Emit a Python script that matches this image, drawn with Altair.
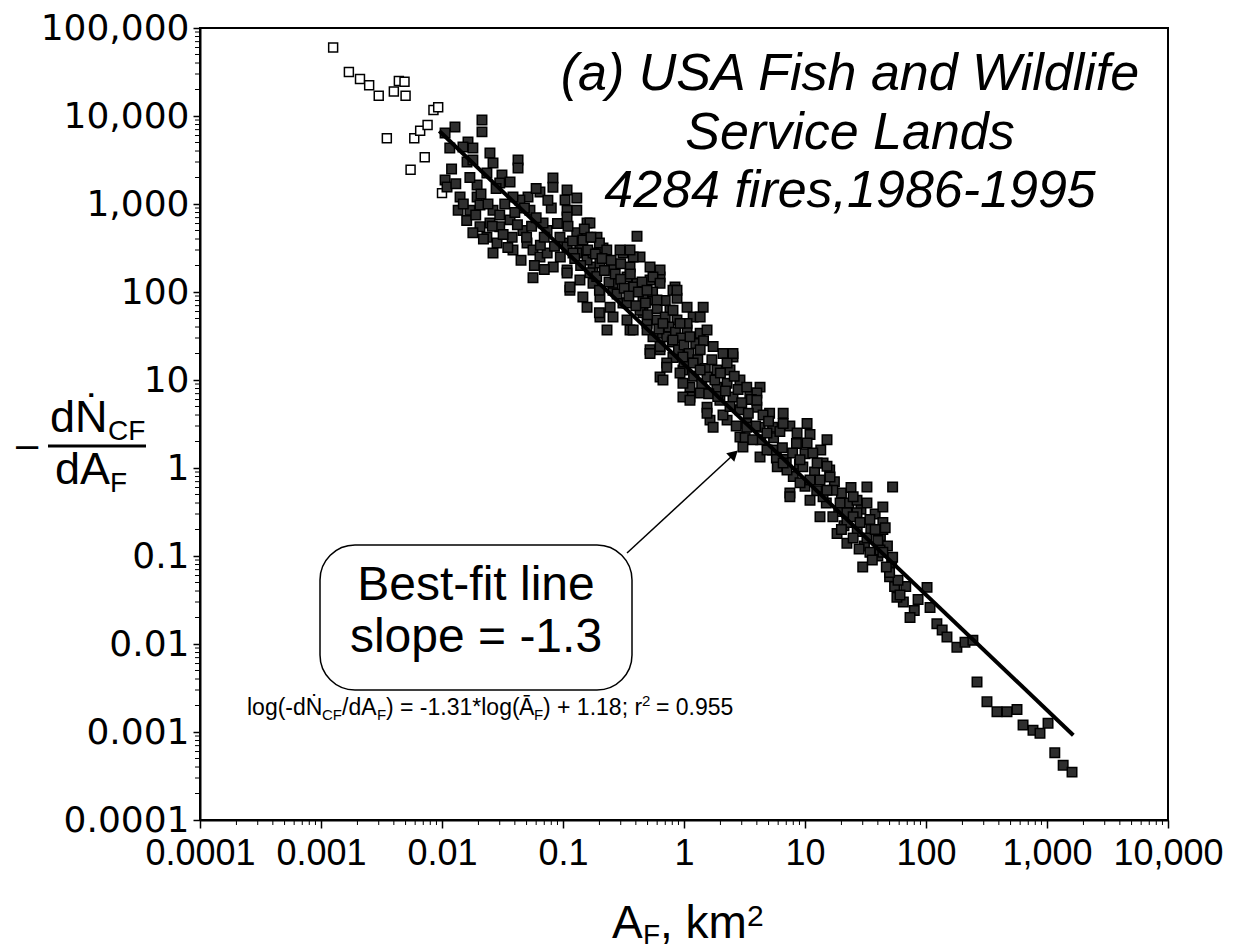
import altair as alt
import pandas as pd

# ---------------- data ----------------
open_x = [0.00126, 0.0017, 0.0021, 0.0025, 0.0030, 0.0040, 0.0044, 0.0049, 0.0050,
          0.0035, 0.0055, 0.0072, 0.0059, 0.0066, 0.0076, 0.0085, 0.0093, 0.0100]
open_y = [60000, 31600, 26300, 22400, 17000, 19000, 25000, 24500, 17000,
          5600, 2450, 3400, 5600, 6800, 7900, 11700, 12600, 1330]

fill_x = [
    # 0.01 - 0.2
    0.0128, 0.0106, 0.0214, 0.0214, 0.0164, 0.0116, 0.018, 0.0161, 0.0249, 0.0264,
    0.0425, 0.0425, 0.0313, 0.0365, 0.0106, 0.011, 0.0195, 0.0141, 0.0195, 0.0206,
    0.0136, 0.017, 0.0826, 0.0826, 0.0645, 0.0514, 0.108, 0.13, 0.108, 0.13,
    0.044, 0.0264, 0.0249, 0.0206, 0.018, 0.0235, 0.030, 0.0285, 0.0365, 0.038,
    0.0467, 0.0504, 0.0386, 0.0565, 0.0645, 0.0264, 0.0738, 0.100, 0.13, 0.138,
    0.158, 0.158, 0.0565, 0.083, 0.074, 0.108, 0.146, 0.177,
    0.0149, 0.018, 0.0235, 0.030, 0.0386, 0.0533, 0.0684, 0.0944, 0.13,
    0.012, 0.013, 0.015, 0.016, 0.017, 0.019, 0.021, 0.022, 0.024, 0.026,
    0.028, 0.03, 0.032, 0.033, 0.035, 0.04, 0.042, 0.045, 0.048, 0.05,
    0.055, 0.058, 0.065, 0.07,
    # 0.05 - 1.5
    0.104, 0.108, 0.167, 0.191, 0.214, 0.313, 0.358, 0.259, 0.202, 0.158,
    0.121, 0.108, 0.138, 0.177, 0.114, 0.146, 0.202, 0.259, 0.245, 0.202,
    0.231, 0.313, 0.338, 0.409, 0.458, 0.524, 0.634, 0.554, 0.458, 0.598,
    0.766, 0.843, 0.875, 1.06, 1.19, 1.44, 0.433, 0.634, 0.524, 0.358,
    1.06, 1.36, 0.634, 0.409,
    0.2, 0.23, 0.296, 0.38, 0.358, 0.177, 0.167, 0.108, 0.114, 0.2,
    0.259, 0.338, 0.38, 0.554, 0.634, 0.811, 0.875, 0.158, 0.2, 0.259,
    0.338, 0.433, 0.38, 0.495, 0.554, 0.72, 0.634, 0.81, 0.98, 1.12, 1.06,
    0.06, 0.07, 0.08, 0.09, 0.095, 0.075, 0.06, 0.085, 0.11, 0.12,
    0.125, 0.14, 0.15, 0.16, 0.17, 0.185, 0.19, 0.21, 0.22, 0.24,
    0.25, 0.27, 0.28, 0.3, 0.3, 0.32, 0.35, 0.36, 0.4, 0.42,
    0.45, 0.48, 0.5, 0.55, 0.6, 0.62, 0.7, 0.7, 0.75, 0.8,
    0.85, 0.9, 0.95, 1.0, 1.0, 1.1, 1.2, 1.25, 1.3, 1.4, 1.45, 1.5,
    # 0.5 - 7
    0.875, 0.495, 0.598, 0.811, 1.36, 0.927, 0.67, 0.495, 0.524, 0.634,
    0.811, 1.12, 1.55, 1.74, 1.36, 0.98, 0.72, 0.634, 0.927, 1.19,
    2.1, 2.54, 2.4, 1.87, 1.55, 1.12, 0.98, 1.36, 1.87, 2.27,
    2.9, 1.98, 1.55, 1.64, 2.54, 3.5, 4.25, 4.0, 2.9, 2.27,
    3.3, 5.1, 6.6, 5.4, 4.25,
    0.524, 0.72, 0.67, 0.98, 1.12, 1.55, 1.74, 4.0, 2.9, 1.36, 2.27, 2.54,
    1.6, 1.7, 1.8, 1.9, 2.0, 2.1, 2.2, 2.4, 2.6, 2.7,
    2.8, 3.0, 3.2, 3.4, 3.6, 3.9, 4.3, 4.5, 5.0, 5.5,
    5.8, 6.2, 6.5, 7.0, 7.5, 8.0, 8.5, 9.0, 10, 10,
    11, 12, 12.5, 13.5, 15, 16, 17.5, 19, 20, 21,
    23, 24, 27, 29, 31, 35, 38, 40, 42, 48, 52, 55, 65, 68, 80,
    # 3 - 55
    3.3, 4.0, 6.6, 10.4, 15.2, 8.6, 10.4, 7.9, 11.6, 14.1,
    5.4, 4.85, 3.7, 3.3, 3.07, 4.25, 5.9, 7.1, 9.6, 7.5,
    9.1, 11, 13.3, 16.1, 11, 14.1, 17, 19.5, 13.3, 17,
    22.2, 26.9, 32.5, 32.5, 26.9, 22.2, 44, 44, 34.4,
    6.6, 9.1, 12.6, 15.2, 7.5, 15.2, 25, 25, 28.5, 4.85, 53,
    # 18 - 1700
    18.4, 22.2, 32.5, 30, 41.7, 44, 53, 50, 57.5, 46,
    34.4, 58.7, 61, 73.8, 86, 102, 108, 123, 136, 149,
    180, 210, 244, 264, 319, 386, 467, 565, 634, 766,
    875, 1020, 1160, 1360, 1610, 44, 50, 20, 25, 28, 36, 40, 47, 38,
]
fill_y = [
    7500, 6400, 9000, 6600, 5070, 4330, 4330, 3000, 3800, 2920,
    3160, 2570, 2140, 1780, 1870, 1560, 1640, 1200, 1200, 975,
    850, 850, 1970, 1550, 1370, 1200, 1440, 1170, 850, 850,
    1110, 850, 610, 550, 470, 420, 550, 360, 660, 420,
    500, 360, 300, 300, 250, 277, 500, 360, 470, 300,
    610, 420, 145, 192, 277, 325, 390, 192,
    4450, 3160, 2250, 1730, 1200, 850, 610, 420, 277,
    2500, 1700, 1000, 650, 2000, 750, 1300, 400, 1000, 560,
    1500, 750, 450, 1000, 320, 800, 580, 230, 900, 420,
    560, 200, 340, 180,
    1110, 710, 610, 420, 316, 277, 192, 192, 214, 231,
    277, 178, 137, 126, 105, 88, 88, 105, 67, 52,
    37, 75, 48, 126, 88, 137, 148, 81, 58, 48,
    62, 114, 48, 67, 52, 67, 250, 178, 192, 37,
    37, 34, 34, 430,
    360, 300, 300, 250, 300, 277, 165, 164, 114, 105,
    126, 148, 114, 148, 126, 105, 85, 67, 58, 52,
    75, 62, 37, 44, 31, 31, 22, 18, 13, 6.4, 44,
    700, 420, 900, 600, 250, 1100, 1500, 330, 560, 380,
    240, 200, 520, 300, 420, 270, 150, 240, 175, 130,
    230, 160, 95, 140, 210, 110, 90, 160, 70, 100,
    130, 75, 55, 100, 65, 38, 52, 80, 40, 27,
    35, 22, 30, 16, 25, 20, 11, 26, 17, 9, 28, 13.5,
    105, 105, 81, 62, 52, 44, 44, 37, 22, 24,
    28.5, 31, 37, 24, 22, 18.2, 15.6, 10.8, 12, 15.6,
    20, 18.2, 13, 13, 10.8, 8.3, 6.4, 7.1, 8.3, 9.2,
    10, 5.9, 4.9, 3.5, 6.4, 7.1, 8.3, 4.9, 4.6, 3.5,
    3.2, 4.2, 4.2, 2.9, 2.9,
    20, 14, 10, 9.2, 5.9, 4.2, 2.9, 7.1, 2.25, 13, 15.6, 20,
    7, 17, 10, 6.5, 12, 4, 7.5, 5, 11, 3,
    7.8, 5.5, 2.2, 4.2, 6, 3, 2.1, 4, 3.4, 2.2,
    1.3, 2.6, 1.7, 1.25, 3.0, 0.8, 1.9, 1.1, 0.62, 1.45,
    2.4, 0.9, 0.55, 1.6, 0.4, 0.95, 0.7, 0.32, 0.52, 0.22,
    0.4, 0.6, 0.19, 0.34, 0.13, 0.2, 0.3, 0.1, 0.17, 0.13, 0.085, 0.045, 0.03, 0.045, 0.024,
    8.3, 5.9, 3.2, 3.2, 2.1, 2.5, 1.92, 1.48, 1.48, 1.14,
    1.6, 2.5, 2.1, 2.9, 1.73, 1.33, 1.03, 0.95, 1.03, 0.52,
    0.68, 0.73, 0.73, 0.79, 0.43, 0.47, 0.56, 0.40, 0.28, 0.28,
    0.31, 0.43, 0.61, 0.40, 0.31, 0.24, 0.36, 0.24, 0.26,
    1.14, 1.24, 1.14, 1.05, 0.47, 0.56, 0.28, 0.47, 0.24, 1.6, 0.61,
    0.18, 0.14, 0.16, 0.075, 0.117, 0.20, 0.097, 0.058, 0.034, 0.21,
    0.11, 0.053, 0.036, 0.020, 0.032, 0.044, 0.026, 0.017, 0.0144, 0.012,
    0.0092, 0.0105, 0.011, 0.0037, 0.0022, 0.0017, 0.0017, 0.0018, 0.0012, 0.00105,
    0.00097, 0.00126, 0.00058, 0.00042, 0.00035, 0.11, 0.065, 0.2, 0.16, 0.12, 0.09, 0.15, 0.075, 0.2,
]

fit_x = [0.0095, 1650]
fit_y = [6750, 0.00092]

x_ticks = [0.0001, 0.001, 0.01, 0.1, 1, 10, 100, 1000, 10000]
y_ticks = [0.0001, 0.001, 0.01, 0.1, 1, 10, 100, 1000, 10000, 100000]
x_minor = [m * 10.0 ** k for k in range(-4, 4) for m in range(2, 10)]
y_minor = [m * 10.0 ** k for k in range(-4, 5) for m in range(2, 10)]

title_lines = ["(a) USA Fish and Wildlife", "Service Lands", "4284 fires,1986-1995"]

# ---------------- chart ----------------
W, H = 968, 792
SANS = "Liberation Sans, Arial, sans-serif"

xs = alt.Scale(type="log", domain=[1e-4, 1e4], nice=False)
ys = alt.Scale(type="log", domain=[1e-4, 1e5], nice=False)
xaxis = alt.Axis(values=x_ticks, format=",", title=None, grid=False, tickSize=8, tickWidth=1.5,
                 tickColor="black", domainColor="black", domainWidth=2, labelFont=SANS,
                 labelFontSize=36, labelColor="black", labelPadding=8, labelFlush=False,
                 labelOverlap=False)
yaxis = alt.Axis(values=y_ticks, format=",", title=None, grid=False, tickSize=7, tickWidth=1.5,
                 tickColor="black", domainColor="black", domainWidth=2, labelFont="DejaVu Sans",
                 labelFontSize=36, labelColor="black", labelPadding=4, labelFlush=False,
                 labelOverlap=False)
X = alt.X("x:Q", scale=xs, axis=xaxis)
Y = alt.Y("y:Q", scale=ys, axis=yaxis)

one = alt.Data(values=[{"a": 1}])


def txt(s, x, y, size, font=SANS, style="normal", align="left", baseline="alphabetic"):
    return alt.Chart(one).mark_text(text=s, font=font, fontSize=size, fontStyle=style,
                                     align=align, baseline=baseline, color="black").encode(
        x=alt.value(x), y=alt.value(y))


minor_x = alt.Chart(pd.DataFrame({"x": x_minor})).mark_rule(color="black", strokeWidth=1).encode(
    x=X, y=alt.value(H), y2=alt.value(H + 5))
minor_y = alt.Chart(pd.DataFrame({"y": y_minor})).mark_rule(color="black", strokeWidth=1).encode(
    y=Y, x=alt.value(-5), x2=alt.value(0))

open_pts = alt.Chart(pd.DataFrame({"x": open_x, "y": open_y})).mark_point(
    shape="square", size=80, filled=True, fill="white", stroke="black", strokeWidth=1.5,
    opacity=1).encode(x=X, y=Y)
fill_pts = alt.Chart(pd.DataFrame({"x": fill_x, "y": fill_y})).mark_point(
    shape="square", size=90, filled=True, fill="#2e2e2e", stroke="black", strokeWidth=1.5,
    opacity=1).encode(x=X, y=Y)
fit = alt.Chart(pd.DataFrame({"x": fit_x, "y": fit_y})).mark_line(
    color="black", strokeWidth=4).encode(x=X, y=Y)

layers = [minor_x, minor_y, open_pts, fill_pts, fit]

# title block
for line, yb in zip(title_lines, [62, 121, 179]):
    layers.append(txt(line, 650, yb, 52, style="italic", align="center"))

# annotation box and arrow
box = alt.Chart(one).mark_rect(cornerRadius=35, fill="white", stroke="black",
                                strokeWidth=1.5).encode(
    x=alt.value(120), x2=alt.value(432), y=alt.value(517), y2=alt.value(662))
arrow = alt.Chart(one).mark_rule(color="black", strokeWidth=1.5).encode(
    x=alt.value(427), y=alt.value(525), x2=alt.value(532), y2=alt.value(428))
head = alt.Chart(one).mark_point(shape="triangle-up", filled=True, size=140, angle=47,
                                  color="black", opacity=1).encode(
    x=alt.value(534), y=alt.value(426))
layers += [box, arrow, head,
           txt("Best-fit line", 276, 572, 48, align="center"),
           txt("slope = -1.3", 276, 624, 48, align="center")]

# equation
eq_base = 687
layers += [
    txt("log(-dṄ", 47, eq_base, 23),
    txt("CF", 122, eq_base + 5, 15),
    txt("/dA", 142, eq_base, 23),
    txt("F", 177, eq_base + 5, 15),
    txt(") = -1.31*log(", 186, eq_base, 23),
    txt("Ā", 319, eq_base, 23),
    txt("F", 334, eq_base + 5, 15),
    txt(") + 1.18; r", 343, eq_base, 23),
    txt("2", 442, eq_base - 9, 15),
    txt("= 0.955", 456, eq_base, 23),
]

# y-axis title: - dN_CF / dA_F
bar = alt.Chart(one).mark_rule(color="black", strokeWidth=3).encode(
    x=alt.value(-152), x2=alt.value(-54), y=alt.value(418))
layers += [
    txt("–", -173, 418, 40, align="center", baseline="middle"),
    txt("dṄ", -150, 404, 45),
    txt("CF", -92, 412, 28),
    bar,
    txt("dA", -145, 456, 45),
    txt("F", -90, 464, 28),
]

# x-axis title: A_F, km2
layers += [
    txt("A", 412, 910, 46),
    txt("F", 443, 916, 28),
    txt(", km", 460, 910, 46),
    txt("2", 547, 898, 30),
]

chart = alt.layer(*layers).properties(
    width=W, height=H,
    padding={"left": 200, "top": 28, "right": 70, "bottom": 132},
    autosize=alt.AutoSizeParams(type="none"),
    background="white",
).configure_view(stroke="black", strokeWidth=2)

chart.save("out.html", embed_options={"renderer": "svg", "actions": False})
